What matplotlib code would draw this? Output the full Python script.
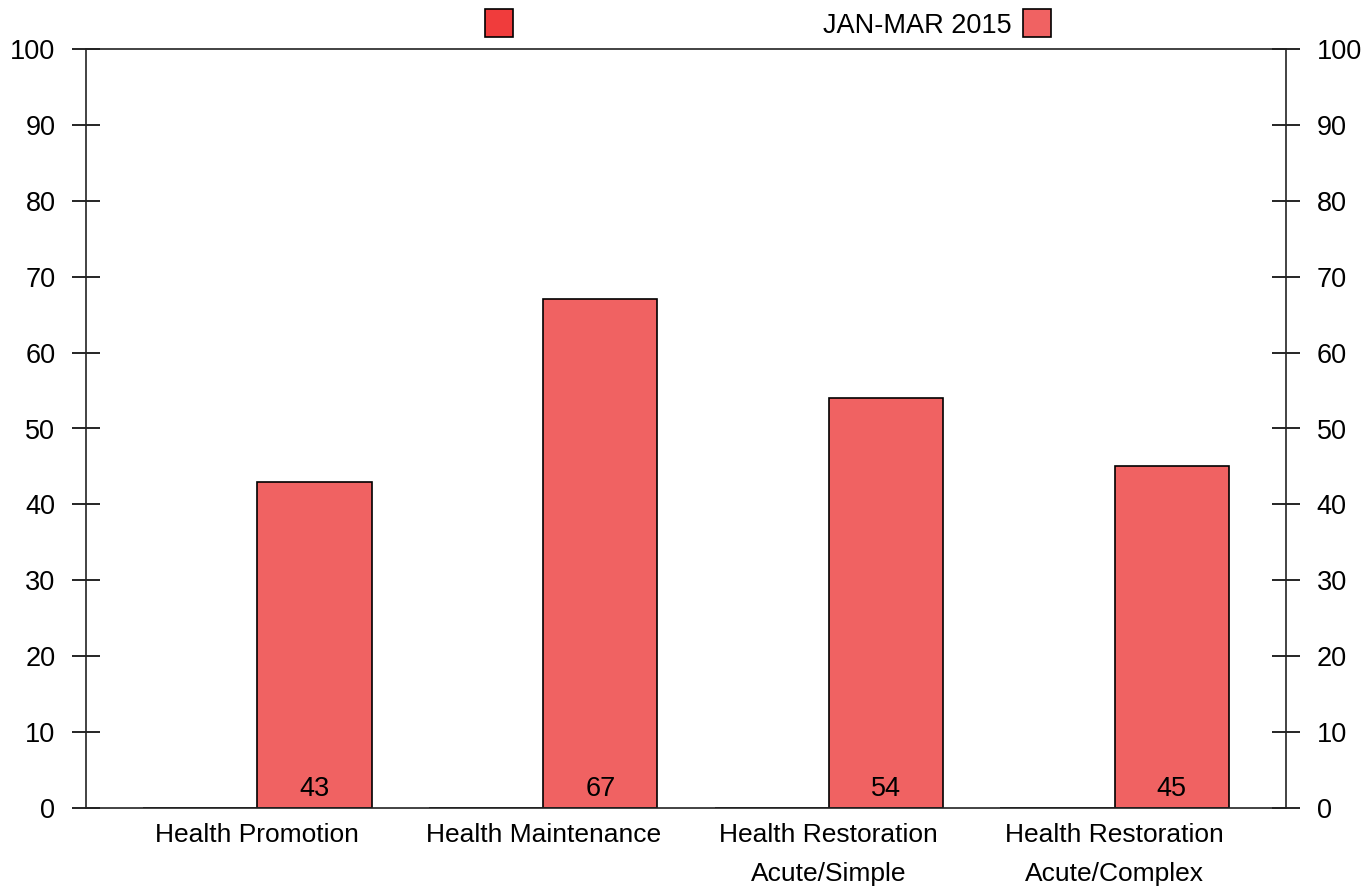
import matplotlib.pyplot as plt
import matplotlib.patches as mpatches
import numpy as np

plt.rcParams['font.family'] = ['Liberation Sans', 'DejaVu Sans']

categories = ['Health Promotion', 'Health Maintenance',
              'Health Restoration\nAcute/Simple', 'Health Restoration\nAcute/Complex']
series1_label = ''
series1 = [0, 0, 0, 0]
series2_label = 'JAN-MAR 2015'
series2 = [43, 67, 54, 45]
yticks = [0, 10, 20, 30, 40, 50, 60, 70, 80, 90, 100]

c1 = '#f03c3c'
c2 = '#f06262'

fig = plt.figure(figsize=(13.71, 8.88), dpi=100)
ax = fig.add_axes([86/1371, 80/888, 1200/1371, 759/888])

x = np.arange(len(categories))
w = 0.4
ax.bar(x - w/2, series1, w, color=c1, edgecolor='black', linewidth=1.2)
b2 = ax.bar(x + w/2, series2, w, color=c2, edgecolor='black', linewidth=1.2)

for rect, v in zip(b2, series2):
    ax.annotate(str(v), (rect.get_x() + rect.get_width()/2, 0),
                xytext=(0, 4), textcoords='offset points',
                ha='center', va='bottom', fontsize=19.5)

ax.set_xlim(-0.6, 3.6)
ax.set_ylim(0, 100)
ax.set_yticks(yticks)
ax.set_xticks(x)
ax.set_xticklabels(categories, fontsize=19, linespacing=1.8)
ax.tick_params(axis='x', length=0, pad=11)
ax.tick_params(axis='y', direction='inout', length=20, width=1.2, labelsize=19.5,
               right=True, labelright=True, pad=12)
for s in ax.spines.values():
    s.set_linewidth(1.2)
    s.set_color('#222222')

h1 = mpatches.Patch(facecolor=c1, edgecolor='black', linewidth=1.2)
h2 = mpatches.Patch(facecolor=c2, edgecolor='black', linewidth=1.2)
fig.legend([h1, h2], [series1_label, series2_label], ncol=2, markerfirst=False,
           frameon=False, fontsize=19.5, handlelength=1.03, handleheight=1.2,
           handletextpad=0.44, columnspacing=11.44, borderpad=0, borderaxespad=0,
           loc='center left', bbox_to_anchor=(473/1371, 1 - 24/888))

fig.savefig('out.png', dpi=100)
